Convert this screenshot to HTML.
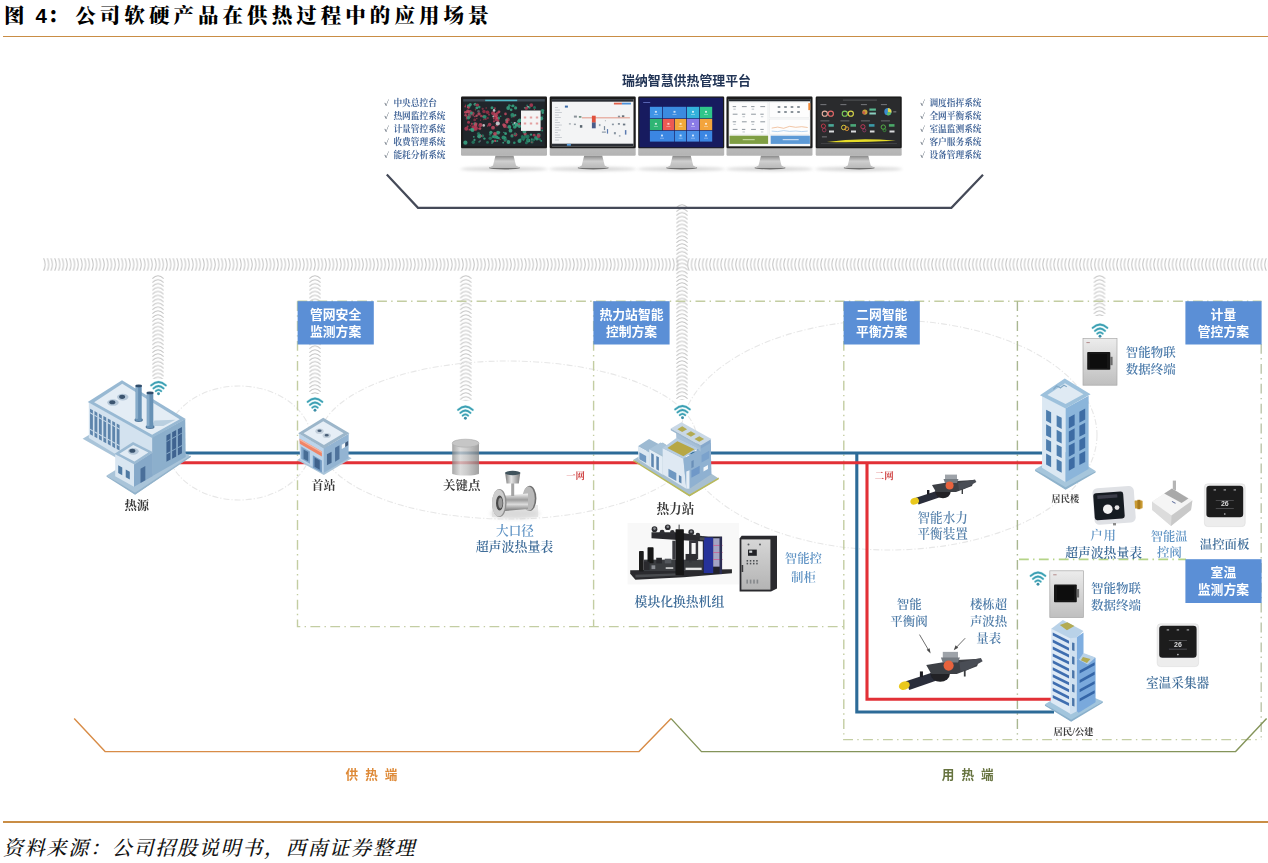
<!DOCTYPE html>
<html lang="zh-CN">
<head>
<meta charset="utf-8">
<title>图 4：公司软硬产品在供热过程中的应用场景</title>
<style>
html,body{margin:0;padding:0;background:#fff;}
#page{position:relative;width:1268px;height:863px;overflow:hidden;background:#fff;
  font-family:"Liberation Sans","Noto Sans CJK SC",sans-serif;}
.title{position:absolute;left:4px;top:0px;height:32px;line-height:32px;white-space:nowrap;
  font-family:"Liberation Sans","Noto Serif CJK SC",serif;font-weight:900;font-size:20.5px;letter-spacing:4.05px;color:#000;}
.title b{font-family:"Liberation Sans",sans-serif;font-weight:700;font-size:20.5px;letter-spacing:0;margin-left:-2.8px;}
.title i{font-style:normal;margin-left:0.6px;margin-right:3.2px;}
.rule{position:absolute;left:3px;right:0;height:2px;background:#c98d45;}
.source{position:absolute;left:3px;top:832.5px;height:30px;line-height:30px;white-space:nowrap;
  font-family:"Liberation Serif","Noto Serif CJK SC",serif;font-style:italic;font-weight:500;font-size:20px;letter-spacing:1.75px;color:#111;}
svg{position:absolute;left:0;top:0;filter:blur(0.4px);}
svg text{font-family:"Liberation Serif","Noto Serif CJK SC",serif;}
.sans{font-family:"Liberation Sans","Noto Sans CJK SC",sans-serif !important;}
</style>
</head>
<body>
<div id="page">
<div class="title">图 <b>4</b><i>：</i>公司软硬产品在供热过程中的应用场景</div>
<div class="rule" style="top:35.7px;height:1.5px"></div>

<svg id="dia" width="1268" height="863" viewBox="0 0 1268 863">
<defs>
  <pattern id="pR" x="43" y="258" width="3.7" height="13" patternUnits="userSpaceOnUse">
    <path d="M0.6,0.3 Q3.6,6.5 0.6,12.7" fill="none" stroke="#c4c4c4" stroke-width="1"/>
  </pattern>
  <pattern id="pL" x="686" y="258" width="3.7" height="13" patternUnits="userSpaceOnUse">
    <path d="M3.1,0.3 Q0.1,6.5 3.1,12.7" fill="none" stroke="#c4c4c4" stroke-width="1"/>
  </pattern>
  <pattern id="pV" x="0" y="0" width="12" height="3.9" patternUnits="userSpaceOnUse">
    <path d="M0.4,3.6 Q6,-2.2 11.6,3.6" fill="none" stroke="#c4c4c4" stroke-width="1"/>
  </pattern>
  <g id="wifi" fill="none" stroke-linecap="round">
    <g stroke="#c9ebee" stroke-width="2.8"><path d="M-7.3,-8.2 Q0,-14.8 7.3,-8.2"/><path d="M-5,-5.2 Q0,-9.8 5,-5.2"/><path d="M-2.7,-2.4 Q0,-5 2.7,-2.4"/></g>
    <g stroke="#3c9fb3"><path d="M-7.3,-8.2 Q0,-14.8 7.3,-8.2" stroke-width="1.75"/>
    <path d="M-5,-5.2 Q0,-9.8 5,-5.2" stroke-width="1.7"/>
    <path d="M-2.7,-2.4 Q0,-5 2.7,-2.4" stroke-width="1.6"/></g>
    <circle cx="0" cy="0.3" r="1.45" fill="#3c8fa8" stroke="none"/>
  </g>
</defs>
<g id="coils">
  <rect x="43" y="258" width="636" height="13" fill="url(#pR)"/>
  <rect x="686" y="258" width="582" height="13" fill="url(#pL)"/>
  <rect x="0" y="0" width="12" height="104.0" fill="url(#pV)" transform="translate(152.0,275.0)"/>
  <rect x="0" y="0" width="12" height="119.0" fill="url(#pV)" transform="translate(309.0,275.0)"/>
  <rect x="0" y="0" width="12" height="126.0" fill="url(#pV)" transform="translate(459.8,275.0)"/>
  <rect x="0" y="0" width="12" height="196.0" fill="url(#pV)" transform="translate(676.0,204.0)"/>
  <rect x="0" y="0" width="12" height="41.0" fill="url(#pV)" transform="translate(1093.5,275.0)"/>
</g>
<g id="ellipses" fill="none" stroke="#e7e7e7" stroke-width="1.1" stroke-dasharray="6 2 1.2 2">
  <ellipse cx="239" cy="443" rx="73" ry="57"/>
  <ellipse cx="508" cy="440" rx="189" ry="79"/>
  <ellipse cx="889" cy="435" rx="208" ry="115"/>
</g>
<g id="boxes" fill="none" stroke="#c3cda2" stroke-width="1.4" stroke-dasharray="9.8 4.3 1.4 4.4">
  <path d="M297.5,301.2 H1261.5"/>
  <path d="M297.5,301.2 V626.6 H843.8"/>
  <path d="M593.6,301.2 V626.6"/>
  <path d="M843.8,301.2 V739.6 H1261.3"/>
  <path d="M1017.4,301.2 V739.6" stroke="#a9b791"/>
  <path d="M1261.2,344 V739.6" stroke="#bcc5aa"/>
  <path d="M1019,559.3 H1186" stroke="#b5d488" stroke-width="1.7"/>
</g>
<g id="tags">
  <rect x="297.6" y="301.2" width="76.2" height="43.3" fill="#5b8fd6"/>
  <rect x="593.4" y="301.2" width="76.2" height="43.3" fill="#5b8fd6"/>
  <rect x="843.6" y="301.2" width="76.2" height="43.3" fill="#5b8fd6"/>
  <rect x="1185.4" y="301.2" width="76.2" height="43.3" fill="#5b8fd6"/>
  <rect x="1185.4" y="559.2" width="76.2" height="43.8" fill="#5b8fd6"/>
  <g class="sans" fill="#fff" font-weight="700" font-size="12.8px">
    <text class="sans" x="310" y="319">管网安全</text>
    <text class="sans" x="310" y="336">监测方案</text>
    <text class="sans" x="631.5" y="319" text-anchor="middle">热力站智能</text>
    <text class="sans" x="631.5" y="336" text-anchor="middle">控制方案</text>
    <text class="sans" x="881.7" y="319" text-anchor="middle">二网智能</text>
    <text class="sans" x="881.7" y="336" text-anchor="middle">平衡方案</text>
    <text class="sans" x="1223.4" y="319" text-anchor="middle">计量</text>
    <text class="sans" x="1223.4" y="336" text-anchor="middle">管控方案</text>
    <text class="sans" x="1223.4" y="577" text-anchor="middle">室温</text>
    <text class="sans" x="1223.4" y="594" text-anchor="middle">监测方案</text>
  </g>
</g>
<g id="wifis">
  <use href="#wifi" x="158.5" y="393.5"/>
  <use href="#wifi" x="315" y="410"/>
  <use href="#wifi" x="465.4" y="418"/>
  <use href="#wifi" x="682.5" y="417.5"/>
  <use href="#wifi" x="1100" y="336"/>
  <use href="#wifi" x="1038" y="584"/>
</g>

<!--SECTION:PLATFORM-->
<g id="platform">
<defs>
<linearGradient id="chin" x1="0" y1="0" x2="0" y2="1"><stop offset="0" stop-color="#d9d9d9"/><stop offset="1" stop-color="#b4b4b4"/></linearGradient>
<linearGradient id="neck" x1="0" y1="0" x2="0" y2="1"><stop offset="0" stop-color="#858585"/><stop offset="0.45" stop-color="#cfcfcf"/><stop offset="1" stop-color="#b8b8b8"/></linearGradient>
<filter id="b1" x="-20%" y="-20%" width="140%" height="140%"><feGaussianBlur stdDeviation="0.7"/></filter>
<filter id="b2" x="-20%" y="-50%" width="140%" height="200%"><feGaussianBlur stdDeviation="1.6"/></filter>
<g id="mon">
<ellipse cx="43" cy="72.5" rx="44" ry="2.2" fill="#d8d8d8" filter="url(#b2)"/>
<ellipse cx="43.5" cy="71.4" rx="15.5" ry="1.5" fill="#6f6f6f"/>
<path d="M34.5,59 H52.5 L55,69 Q58.5,70.5 58.5,71.6 H28.5 Q28.5,70.5 32,69 Z" fill="url(#neck)"/>
<rect x="0" y="0" width="86" height="59.3" rx="1.2" fill="url(#chin)"/>
<rect x="0" y="0" width="86" height="51.8" rx="1.2" fill="#1c1c1c"/>
</g>
</defs>
<use href="#mon" x="461" y="96.5"/>
<use href="#mon" x="549.7" y="96.5"/>
<use href="#mon" x="638.2" y="96.5"/>
<use href="#mon" x="726.5" y="96.5"/>
<use href="#mon" x="815.7" y="96.5"/>
<g><rect x="463.2" y="99.1" width="81.6" height="47.2" fill="#20262b"/>
<rect x="463.2" y="99.1" width="81.6" height="2.4" fill="#3d4a55"/>
<rect x="485.2" y="99.69999999999999" width="32" height="1.5" fill="#4fb7c4"/>
<g filter="url(#b1)">
<circle cx="483.7" cy="125.4" r="1.3" fill="#d7dadd" opacity="0.85"/>
<circle cx="510.3" cy="127.8" r="0.9" fill="#2f9a78" opacity="0.85"/>
<circle cx="507.9" cy="119.7" r="1.9" fill="#b23a55" opacity="0.85"/>
<circle cx="505.8" cy="133.2" r="0.7" fill="#237a60" opacity="0.85"/>
<circle cx="525.7" cy="136.4" r="2.0" fill="#237a60" opacity="0.85"/>
<circle cx="495.3" cy="135.0" r="1.3" fill="#237a60" opacity="0.85"/>
<circle cx="537.8" cy="138.6" r="0.9" fill="#3aa886" opacity="0.85"/>
<circle cx="513.8" cy="115.9" r="1.5" fill="#8c2f45" opacity="0.85"/>
<circle cx="506.6" cy="120.1" r="1.6" fill="#2f9a78" opacity="0.85"/>
<circle cx="537.3" cy="137.7" r="0.8" fill="#8c2f45" opacity="0.85"/>
<circle cx="532.0" cy="141.9" r="1.6" fill="#237a60" opacity="0.85"/>
<circle cx="514.3" cy="142.8" r="1.3" fill="#2f9a78" opacity="0.85"/>
<circle cx="514.8" cy="123.1" r="1.2" fill="#d7dadd" opacity="0.85"/>
<circle cx="476.9" cy="115.6" r="0.7" fill="#3aa886" opacity="0.85"/>
<circle cx="512.9" cy="105.9" r="1.4" fill="#3aa886" opacity="0.85"/>
<circle cx="542.7" cy="116.2" r="0.6" fill="#237a60" opacity="0.85"/>
<circle cx="480.5" cy="120.1" r="0.7" fill="#9c3048" opacity="0.85"/>
<circle cx="539.6" cy="139.2" r="1.2" fill="#237a60" opacity="0.85"/>
<circle cx="473.2" cy="142.2" r="1.7" fill="#237a60" opacity="0.85"/>
<circle cx="483.6" cy="115.9" r="1.1" fill="#9c3048" opacity="0.85"/>
<circle cx="526.4" cy="142.8" r="1.5" fill="#237a60" opacity="0.85"/>
<circle cx="475.5" cy="128.9" r="2.0" fill="#9c3048" opacity="0.85"/>
<circle cx="512.4" cy="115.0" r="2.0" fill="#2f9a78" opacity="0.85"/>
<circle cx="466.8" cy="118.6" r="1.1" fill="#9c3048" opacity="0.85"/>
<circle cx="493.4" cy="116.4" r="1.0" fill="#d7dadd" opacity="0.85"/>
<circle cx="526.3" cy="108.2" r="1.6" fill="#b23a55" opacity="0.85"/>
<circle cx="475.4" cy="123.7" r="1.6" fill="#b23a55" opacity="0.85"/>
<circle cx="515.6" cy="107.9" r="1.6" fill="#3aa886" opacity="0.85"/>
<circle cx="482.6" cy="135.8" r="1.6" fill="#237a60" opacity="0.85"/>
<circle cx="482.7" cy="108.8" r="1.1" fill="#8c2f45" opacity="0.85"/>
<circle cx="529.4" cy="107.5" r="1.2" fill="#2f9a78" opacity="0.85"/>
<circle cx="505.4" cy="137.4" r="1.0" fill="#3aa886" opacity="0.85"/>
<circle cx="509.3" cy="105.5" r="1.3" fill="#2f9a78" opacity="0.85"/>
<circle cx="504.8" cy="126.0" r="1.9" fill="#c24a62" opacity="0.85"/>
<circle cx="516.6" cy="124.4" r="1.9" fill="#2f9a78" opacity="0.85"/>
<circle cx="531.8" cy="142.2" r="0.7" fill="#b23a55" opacity="0.85"/>
<circle cx="536.9" cy="139.2" r="1.3" fill="#2f9a78" opacity="0.85"/>
<circle cx="474.6" cy="123.8" r="1.4" fill="#2f9a78" opacity="0.85"/>
<circle cx="497.3" cy="140.9" r="1.0" fill="#2f9a78" opacity="0.85"/>
<circle cx="480.5" cy="125.1" r="2.0" fill="#c24a62" opacity="0.85"/>
<circle cx="527.7" cy="136.4" r="1.9" fill="#237a60" opacity="0.85"/>
<circle cx="469.1" cy="114.7" r="1.4" fill="#c24a62" opacity="0.85"/>
<circle cx="469.2" cy="116.8" r="1.8" fill="#b23a55" opacity="0.85"/>
<circle cx="468.8" cy="106.1" r="1.9" fill="#3aa886" opacity="0.85"/>
<circle cx="471.9" cy="123.8" r="1.1" fill="#b23a55" opacity="0.85"/>
<circle cx="515.4" cy="127.1" r="1.2" fill="#3aa886" opacity="0.85"/>
<circle cx="475.1" cy="104.2" r="1.5" fill="#3aa886" opacity="0.85"/>
<circle cx="468.5" cy="122.2" r="1.5" fill="#b23a55" opacity="0.85"/>
<circle cx="498.7" cy="118.7" r="1.1" fill="#3aa886" opacity="0.85"/>
<circle cx="466.6" cy="112.7" r="0.7" fill="#c24a62" opacity="0.85"/>
<circle cx="498.2" cy="120.8" r="1.2" fill="#b23a55" opacity="0.85"/>
<circle cx="534.9" cy="135.1" r="0.8" fill="#237a60" opacity="0.85"/>
<circle cx="534.1" cy="135.2" r="1.4" fill="#b23a55" opacity="0.85"/>
<circle cx="473.2" cy="127.1" r="1.8" fill="#b23a55" opacity="0.85"/>
<circle cx="468.6" cy="107.7" r="1.2" fill="#b23a55" opacity="0.85"/>
<circle cx="531.3" cy="105.1" r="1.9" fill="#b23a55" opacity="0.85"/>
<circle cx="527.2" cy="105.5" r="1.0" fill="#237a60" opacity="0.85"/>
<circle cx="508.2" cy="108.0" r="1.9" fill="#3aa886" opacity="0.85"/>
<circle cx="479.2" cy="107.1" r="1.3" fill="#2f9a78" opacity="0.85"/>
<circle cx="519.5" cy="141.1" r="2.0" fill="#3aa886" opacity="0.85"/>
<circle cx="508.4" cy="142.0" r="1.9" fill="#3aa886" opacity="0.85"/>
<circle cx="509.3" cy="126.8" r="1.9" fill="#3aa886" opacity="0.85"/>
<circle cx="476.8" cy="107.9" r="1.4" fill="#3aa886" opacity="0.85"/>
<circle cx="499.6" cy="132.3" r="0.8" fill="#2f9a78" opacity="0.85"/>
<circle cx="505.2" cy="140.7" r="1.0" fill="#8c2f45" opacity="0.85"/>
<circle cx="519.9" cy="120.3" r="1.9" fill="#3aa886" opacity="0.85"/>
<circle cx="489.0" cy="114.6" r="1.1" fill="#9c3048" opacity="0.85"/>
<circle cx="490.2" cy="134.4" r="1.3" fill="#237a60" opacity="0.85"/>
<circle cx="511.7" cy="122.4" r="0.7" fill="#237a60" opacity="0.85"/>
<circle cx="538.7" cy="134.8" r="1.9" fill="#2f9a78" opacity="0.85"/>
<circle cx="515.5" cy="134.6" r="1.9" fill="#b23a55" opacity="0.85"/>
<circle cx="484.0" cy="111.5" r="1.7" fill="#9c3048" opacity="0.85"/>
<circle cx="531.8" cy="139.4" r="1.1" fill="#2f9a78" opacity="0.85"/>
<circle cx="498.0" cy="132.7" r="1.9" fill="#3aa886" opacity="0.85"/>
<circle cx="487.8" cy="118.1" r="1.1" fill="#8c2f45" opacity="0.85"/>
<circle cx="467.5" cy="117.1" r="1.6" fill="#b23a55" opacity="0.85"/>
<circle cx="474.9" cy="116.6" r="0.8" fill="#c24a62" opacity="0.85"/>
<circle cx="534.0" cy="139.7" r="1.2" fill="#237a60" opacity="0.85"/>
<circle cx="525.1" cy="133.8" r="1.6" fill="#c24a62" opacity="0.85"/>
<circle cx="538.5" cy="136.1" r="2.0" fill="#b23a55" opacity="0.85"/>
<circle cx="517.4" cy="125.1" r="1.4" fill="#b23a55" opacity="0.85"/>
<circle cx="469.8" cy="115.6" r="1.7" fill="#5a5f66" opacity="0.85"/>
<circle cx="476.8" cy="118.6" r="0.8" fill="#9c3048" opacity="0.85"/>
<circle cx="490.9" cy="132.3" r="1.6" fill="#3aa886" opacity="0.85"/>
<circle cx="500.7" cy="116.3" r="0.8" fill="#2f9a78" opacity="0.85"/>
<circle cx="479.3" cy="125.8" r="1.1" fill="#8c2f45" opacity="0.85"/>
<circle cx="485.8" cy="119.1" r="1.0" fill="#9c3048" opacity="0.85"/>
<circle cx="519.2" cy="124.3" r="1.3" fill="#c24a62" opacity="0.85"/>
<circle cx="528.0" cy="106.8" r="0.8" fill="#d7dadd" opacity="0.85"/>
<circle cx="486.2" cy="108.0" r="0.8" fill="#9c3048" opacity="0.85"/>
<circle cx="519.4" cy="126.3" r="1.7" fill="#3aa886" opacity="0.85"/>
<circle cx="511.1" cy="109.8" r="1.4" fill="#3aa886" opacity="0.85"/>
<circle cx="478.4" cy="111.1" r="0.6" fill="#c24a62" opacity="0.85"/>
<circle cx="527.5" cy="139.0" r="1.1" fill="#237a60" opacity="0.85"/>
<circle cx="503.8" cy="124.8" r="1.6" fill="#c24a62" opacity="0.85"/>
<circle cx="467.5" cy="111.6" r="1.0" fill="#9c3048" opacity="0.85"/>
<circle cx="478.6" cy="128.6" r="0.9" fill="#9c3048" opacity="0.85"/>
<circle cx="528.3" cy="140.4" r="2.0" fill="#3aa886" opacity="0.85"/>
<circle cx="534.4" cy="109.4" r="0.7" fill="#b23a55" opacity="0.85"/>
<circle cx="493.1" cy="113.2" r="2.0" fill="#b23a55" opacity="0.85"/>
<circle cx="490.3" cy="138.2" r="1.8" fill="#237a60" opacity="0.85"/>
<circle cx="467.8" cy="107.2" r="0.9" fill="#c24a62" opacity="0.85"/>
<circle cx="470.1" cy="111.9" r="1.8" fill="#b23a55" opacity="0.85"/>
<circle cx="496.9" cy="137.2" r="1.6" fill="#3aa886" opacity="0.85"/>
<circle cx="506.9" cy="120.6" r="1.3" fill="#c24a62" opacity="0.85"/>
<circle cx="518.8" cy="121.3" r="1.7" fill="#3aa886" opacity="0.85"/>
<circle cx="493.7" cy="118.6" r="0.9" fill="#c24a62" opacity="0.85"/>
<circle cx="465.4" cy="112.3" r="1.4" fill="#c24a62" opacity="0.85"/>
<circle cx="477.5" cy="105.0" r="1.6" fill="#b23a55" opacity="0.85"/>
<circle cx="476.0" cy="128.0" r="1.9" fill="#b23a55" opacity="0.85"/>
<circle cx="496.5" cy="116.6" r="0.7" fill="#b23a55" opacity="0.85"/>
<circle cx="496.5" cy="119.6" r="1.9" fill="#b23a55" opacity="0.85"/>
<circle cx="483.9" cy="119.4" r="0.8" fill="#9c3048" opacity="0.85"/>
<circle cx="541.3" cy="141.0" r="1.0" fill="#237a60" opacity="0.85"/>
<circle cx="492.0" cy="107.8" r="1.5" fill="#3aa886" opacity="0.85"/>
<circle cx="465.5" cy="105.3" r="0.7" fill="#9c3048" opacity="0.85"/>
<circle cx="469.4" cy="129.7" r="0.9" fill="#c24a62" opacity="0.85"/>
<circle cx="527.6" cy="140.1" r="1.5" fill="#237a60" opacity="0.85"/>
<circle cx="495.8" cy="141.2" r="0.8" fill="#2f9a78" opacity="0.85"/>
<circle cx="495.5" cy="117.2" r="1.9" fill="#9c3048" opacity="0.85"/>
<circle cx="495.1" cy="140.9" r="1.1" fill="#c24a62" opacity="0.85"/>
<circle cx="497.4" cy="113.1" r="1.4" fill="#b23a55" opacity="0.85"/>
<circle cx="523.6" cy="140.0" r="0.7" fill="#3aa886" opacity="0.85"/>
<circle cx="478.5" cy="133.6" r="1.6" fill="#237a60" opacity="0.85"/>
<circle cx="472.7" cy="113.4" r="1.9" fill="#b23a55" opacity="0.85"/>
<circle cx="500.1" cy="139.3" r="0.6" fill="#c24a62" opacity="0.85"/>
<circle cx="480.3" cy="134.9" r="0.8" fill="#3aa886" opacity="0.85"/>
<circle cx="471.5" cy="129.5" r="1.6" fill="#2f9a78" opacity="0.85"/>
<circle cx="541.1" cy="140.8" r="0.8" fill="#2f9a78" opacity="0.85"/>
<circle cx="487.5" cy="112.3" r="1.8" fill="#9c3048" opacity="0.85"/>
<circle cx="512.1" cy="135.0" r="1.3" fill="#8c2f45" opacity="0.85"/>
<circle cx="513.5" cy="105.7" r="0.9" fill="#2f9a78" opacity="0.85"/>
<circle cx="534.5" cy="107.5" r="1.5" fill="#237a60" opacity="0.85"/>
<circle cx="515.0" cy="133.9" r="1.3" fill="#237a60" opacity="0.85"/>
<circle cx="473.8" cy="136.8" r="0.9" fill="#3aa886" opacity="0.85"/>
<circle cx="507.0" cy="122.3" r="1.3" fill="#b23a55" opacity="0.85"/>
<circle cx="470.8" cy="125.8" r="0.7" fill="#9c3048" opacity="0.85"/>
<circle cx="505.5" cy="113.9" r="1.3" fill="#c24a62" opacity="0.85"/>
<circle cx="484.7" cy="116.8" r="1.9" fill="#2f9a78" opacity="0.85"/>
<circle cx="541.8" cy="128.1" r="1.2" fill="#8c2f45" opacity="0.85"/>
<circle cx="480.0" cy="128.6" r="1.3" fill="#c24a62" opacity="0.85"/>
<circle cx="510.8" cy="105.5" r="0.6" fill="#2f9a78" opacity="0.85"/>
<circle cx="476.9" cy="123.8" r="0.7" fill="#b23a55" opacity="0.85"/>
<circle cx="498.8" cy="117.6" r="1.0" fill="#2f9a78" opacity="0.85"/>
<circle cx="473.2" cy="115.8" r="0.8" fill="#b23a55" opacity="0.85"/>
<circle cx="524.4" cy="131.6" r="1.9" fill="#3aa886" opacity="0.85"/>
<circle cx="494.1" cy="110.4" r="1.3" fill="#d7dadd" opacity="0.85"/>
<circle cx="542.7" cy="112.8" r="1.2" fill="#3aa886" opacity="0.85"/>
<circle cx="493.1" cy="136.7" r="1.4" fill="#2f9a78" opacity="0.85"/>
<circle cx="466.3" cy="128.8" r="2.0" fill="#b23a55" opacity="0.85"/>
<circle cx="465.4" cy="142.7" r="2.1" fill="#3aa886" opacity="0.85"/>
<circle cx="467.9" cy="111.4" r="1.9" fill="#c24a62" opacity="0.85"/>
<circle cx="512.0" cy="135.9" r="1.6" fill="#2f9a78" opacity="0.85"/>
<circle cx="503.9" cy="132.4" r="0.7" fill="#3aa886" opacity="0.85"/>
<circle cx="542.5" cy="110.6" r="1.7" fill="#2f9a78" opacity="0.85"/>
<circle cx="475.6" cy="104.8" r="0.7" fill="#9c3048" opacity="0.85"/>
<circle cx="505.6" cy="133.7" r="1.4" fill="#3aa886" opacity="0.85"/>
<circle cx="478.5" cy="111.3" r="1.4" fill="#5a5f66" opacity="0.85"/>
<circle cx="496.9" cy="117.9" r="1.3" fill="#c24a62" opacity="0.85"/>
<circle cx="489.6" cy="124.6" r="1.8" fill="#b23a55" opacity="0.85"/>
<circle cx="467.6" cy="126.6" r="1.0" fill="#b23a55" opacity="0.85"/>
<circle cx="520.2" cy="139.8" r="1.2" fill="#2f9a78" opacity="0.85"/>
<circle cx="505.1" cy="139.2" r="0.9" fill="#3aa886" opacity="0.85"/>
<circle cx="494.9" cy="136.6" r="2.0" fill="#2f9a78" opacity="0.85"/>
<circle cx="495.7" cy="115.2" r="2.1" fill="#c24a62" opacity="0.85"/>
<circle cx="471.4" cy="113.1" r="1.6" fill="#2f9a78" opacity="0.85"/>
<circle cx="474.1" cy="128.9" r="1.8" fill="#b23a55" opacity="0.85"/>
<circle cx="465.6" cy="115.2" r="1.3" fill="#c24a62" opacity="0.85"/>
<circle cx="487.7" cy="126.0" r="0.8" fill="#b23a55" opacity="0.85"/>
<circle cx="542.2" cy="130.5" r="0.9" fill="#2f9a78" opacity="0.85"/>
<circle cx="513.8" cy="116.3" r="0.7" fill="#2f9a78" opacity="0.85"/>
<circle cx="494.9" cy="108.3" r="1.0" fill="#b23a55" opacity="0.85"/>
<circle cx="475.4" cy="109.8" r="0.7" fill="#9c3048" opacity="0.85"/>
<circle cx="480.1" cy="140.9" r="1.0" fill="#5a5f66" opacity="0.85"/>
<circle cx="492.7" cy="141.4" r="1.3" fill="#3aa886" opacity="0.85"/>
<circle cx="496.8" cy="125.2" r="1.3" fill="#9c3048" opacity="0.85"/>
<circle cx="495.0" cy="133.8" r="1.9" fill="#c24a62" opacity="0.85"/>
<circle cx="479.1" cy="141.9" r="0.8" fill="#2f9a78" opacity="0.85"/>
<circle cx="512.0" cy="106.3" r="0.8" fill="#2f9a78" opacity="0.85"/>
<circle cx="474.7" cy="119.9" r="1.4" fill="#8c2f45" opacity="0.85"/>
<circle cx="524.6" cy="107.7" r="0.8" fill="#3aa886" opacity="0.85"/>
<circle cx="511.8" cy="116.8" r="1.1" fill="#237a60" opacity="0.85"/>
<circle cx="493.0" cy="127.7" r="1.9" fill="#c24a62" opacity="0.85"/>
<circle cx="487.5" cy="142.4" r="1.4" fill="#237a60" opacity="0.85"/>
<circle cx="515.3" cy="115.2" r="1.1" fill="#3aa886" opacity="0.85"/>
<circle cx="513.3" cy="124.5" r="1.2" fill="#3aa886" opacity="0.85"/>
<circle cx="531.0" cy="134.6" r="1.2" fill="#3aa886" opacity="0.85"/>
<circle cx="541.3" cy="118.5" r="1.9" fill="#3aa886" opacity="0.85"/>
<circle cx="498.7" cy="138.1" r="1.2" fill="#3aa886" opacity="0.85"/>
<circle cx="494.0" cy="121.3" r="1.1" fill="#b23a55" opacity="0.85"/>
<circle cx="465.2" cy="106.6" r="0.9" fill="#b23a55" opacity="0.85"/>
<circle cx="499.0" cy="111.8" r="1.4" fill="#c24a62" opacity="0.85"/>
<circle cx="522.4" cy="136.6" r="1.5" fill="#237a60" opacity="0.85"/>
<circle cx="504.7" cy="140.5" r="1.0" fill="#3aa886" opacity="0.85"/>
<circle cx="479.9" cy="136.4" r="1.2" fill="#8c2f45" opacity="0.85"/>
<circle cx="503.2" cy="142.7" r="0.9" fill="#3aa886" opacity="0.85"/>
<circle cx="514.5" cy="127.1" r="1.6" fill="#2f9a78" opacity="0.85"/>
<circle cx="523.1" cy="138.5" r="2.1" fill="#237a60" opacity="0.85"/>
<circle cx="470.3" cy="104.5" r="1.5" fill="#3aa886" opacity="0.85"/>
<circle cx="472.5" cy="130.0" r="1.9" fill="#3aa886" opacity="0.85"/>
<circle cx="482.7" cy="116.7" r="0.7" fill="#3aa886" opacity="0.85"/>
<circle cx="505.4" cy="139.5" r="1.8" fill="#237a60" opacity="0.85"/>
<circle cx="479.2" cy="136.3" r="2.1" fill="#3aa886" opacity="0.85"/>
<circle cx="516.5" cy="124.8" r="1.9" fill="#3aa886" opacity="0.85"/>
<circle cx="475.5" cy="124.9" r="1.8" fill="#c24a62" opacity="0.85"/>
<circle cx="535.8" cy="137.7" r="1.7" fill="#2f9a78" opacity="0.85"/>
<circle cx="503.5" cy="137.6" r="2.0" fill="#2f9a78" opacity="0.85"/>
<circle cx="474.5" cy="139.9" r="1.1" fill="#3aa886" opacity="0.85"/>
<circle cx="484.4" cy="138.6" r="1.2" fill="#3aa886" opacity="0.85"/>
<circle cx="479.0" cy="113.9" r="1.7" fill="#c24a62" opacity="0.85"/>
<circle cx="481.3" cy="116.0" r="1.3" fill="#b23a55" opacity="0.85"/>
<circle cx="481.4" cy="135.9" r="0.9" fill="#c24a62" opacity="0.85"/>
<circle cx="507.1" cy="127.5" r="0.7" fill="#b23a55" opacity="0.85"/>
<circle cx="506.8" cy="122.0" r="1.4" fill="#c24a62" opacity="0.85"/>
<circle cx="497.8" cy="123.5" r="2.1" fill="#d7dadd" opacity="0.85"/>
<circle cx="492.0" cy="143.1" r="0.8" fill="#3aa886" opacity="0.85"/>
<circle cx="497.7" cy="138.0" r="1.1" fill="#2f9a78" opacity="0.85"/>
<circle cx="476.6" cy="115.8" r="1.2" fill="#c24a62" opacity="0.85"/>
<circle cx="468.4" cy="117.7" r="1.7" fill="#2f9a78" opacity="0.85"/>
<circle cx="510.5" cy="130.7" r="1.9" fill="#3aa886" opacity="0.85"/>
</g>
<rect x="521" y="110.5" width="19.6" height="20.4" fill="#f4f4f4"/>
<rect x="523.8" y="116.5" width="2.4" height="2" fill="#e3a0a0"/>
<rect x="529.8" y="116.5" width="2.4" height="2" fill="#e3a0a0"/>
<rect x="535.8" y="116.5" width="2.4" height="2" fill="#e3a0a0"/>
<rect x="523.8" y="122.5" width="2.4" height="2" fill="#e3a0a0"/>
<rect x="529.8" y="122.5" width="2.4" height="2" fill="#e3a0a0"/>
<rect x="535.8" y="122.5" width="2.4" height="2" fill="#e3a0a0"/>
</g>
<g><rect x="551.9000000000001" y="99.1" width="81.6" height="47.2" fill="#f3f4f5"/>
<rect x="551.9000000000001" y="99.1" width="81.6" height="2.6" fill="#2b2f36"/>
<rect x="551.9000000000001" y="143.70000000000002" width="81.6" height="2.6" fill="#2b2f36"/>
<rect x="613.9000000000001" y="102.69999999999999" width="8" height="1.8" fill="#e0604a"/><rect x="621.9000000000001" y="102.69999999999999" width="9" height="1.8" fill="#4a90d8"/>
<rect x="564.9000000000001" y="105.6" width="3" height="2" fill="#3a6aa8"/>
<rect x="554.9000000000001" y="107.1" width="3" height="0.9" fill="#c5c9cf"/>
<rect x="554.9000000000001" y="109.6" width="5" height="0.9" fill="#c5c9cf"/>
<rect x="554.9000000000001" y="112.1" width="7" height="0.9" fill="#c5c9cf"/>
<rect x="554.9000000000001" y="114.6" width="4" height="0.9" fill="#c5c9cf"/>
<rect x="554.9000000000001" y="117.1" width="6" height="0.9" fill="#c5c9cf"/>
<rect x="554.9000000000001" y="119.6" width="3" height="0.9" fill="#c5c9cf"/>
<rect x="554.9000000000001" y="122.1" width="5" height="0.9" fill="#c5c9cf"/>
<rect x="554.9000000000001" y="124.6" width="7" height="0.9" fill="#c5c9cf"/>
<rect x="554.9000000000001" y="127.1" width="4" height="0.9" fill="#c5c9cf"/>
<rect x="554.9000000000001" y="129.6" width="6" height="0.9" fill="#c5c9cf"/>
<rect x="554.9000000000001" y="132.1" width="3" height="0.9" fill="#c5c9cf"/>
<rect x="554.9000000000001" y="134.6" width="5" height="0.9" fill="#c5c9cf"/>
<rect x="554.9000000000001" y="137.1" width="7" height="0.9" fill="#c5c9cf"/>
<rect x="554.9000000000001" y="139.6" width="4" height="0.9" fill="#c5c9cf"/>
<rect x="581.9000000000001" y="117.39999999999999" width="48" height="0.9" fill="#e28a78"/>
<rect x="591.9000000000001" y="115.69999999999999" width="3.8" height="7" fill="#e0523e"/><rect x="591.9000000000001" y="122.5" width="3.8" height="5.8" fill="#4a5d8a"/>
<rect x="573.9000000000001" y="115.6" width="3" height="2" fill="#8a929a"/>
<rect x="578.9000000000001" y="116.1" width="2.5" height="1.6" fill="#6a8a7a"/>
<rect x="568.9000000000001" y="123.1" width="2" height="1.5" fill="#b0b6bc"/>
<rect x="573.9000000000001" y="123.6" width="2" height="1.5" fill="#9aa2aa"/>
<rect x="579.9000000000001" y="125.1" width="2.4" height="2.6" fill="#5a6670"/>
<rect x="598.9000000000001" y="124.1" width="1.6" height="2" fill="#9aa6b2"/>
<rect x="603.9000000000001" y="126.1" width="1.2" height="4" fill="#7a8a9a"/>
<rect x="606.9000000000001" y="129.1" width="1.2" height="4.5" fill="#5a7ab0"/>
<rect x="601.9000000000001" y="131.6" width="4" height="1" fill="#7a8a9a"/>
<rect x="611.9000000000001" y="123.6" width="2" height="1.6" fill="#8a96a2"/>
<rect x="617.9000000000001" y="123.1" width="2" height="1.6" fill="#7a8692"/>
<rect x="622.9000000000001" y="123.6" width="2.4" height="1.8" fill="#6a7682"/>
<rect x="613.9000000000001" y="132.1" width="2" height="2.2" fill="#8a96a2"/>
<rect x="618.9000000000001" y="135.1" width="1.6" height="1.6" fill="#a0aab4"/>
<rect x="624.9000000000001" y="130.1" width="1.5" height="4.5" fill="#5a7ab0"/>
<rect x="617.9000000000001" y="115.69999999999999" width="2.2" height="1.6" fill="#8a929a"/>
<rect x="621.9000000000001" y="115.3" width="2.4" height="1.8" fill="#6a727a"/>
<rect x="604.9000000000001" y="120.1" width="1" height="1.2" fill="#b0b6bc"/>
<rect x="566.9000000000001" y="143.9" width="4" height="1.8" fill="#5aa0e0"/>
</g>
<g><rect x="639.4000000000001" y="97.7" width="83.6" height="49.6" fill="#171b5f"/>
<rect x="643.2" y="102.1" width="7" height="0.8" fill="#6a78c8"/>
<rect x="649.9" y="106.8" width="12.1" height="11.5" fill="#3f94e6"/>
<rect x="654.9" y="110.9" width="2" height="1.8" fill="#fff" opacity="0.75"/>
<rect x="653.9" y="114.1" width="4" height="0.7" fill="#fff" opacity="0.5"/>
<rect x="662.7" y="106.8" width="23.6" height="11.5" fill="#3b8be0"/>
<rect x="673.5" y="110.9" width="2" height="1.8" fill="#fff" opacity="0.75"/>
<rect x="672.5" y="114.1" width="4" height="0.7" fill="#fff" opacity="0.5"/>
<rect x="687.0" y="106.8" width="12.1" height="11.5" fill="#33b2dc"/>
<rect x="692.0" y="110.9" width="2" height="1.8" fill="#fff" opacity="0.75"/>
<rect x="691.0" y="114.1" width="4" height="0.7" fill="#fff" opacity="0.5"/>
<rect x="699.8" y="106.8" width="12.4" height="11.5" fill="#2fc68a"/>
<rect x="705.0" y="110.9" width="2" height="1.8" fill="#fff" opacity="0.75"/>
<rect x="704.0" y="114.1" width="4" height="0.7" fill="#fff" opacity="0.5"/>
<rect x="649.9" y="118.9" width="12.1" height="11.3" fill="#2fb574"/>
<rect x="654.9" y="122.9" width="2" height="1.8" fill="#fff" opacity="0.75"/>
<rect x="653.9" y="126.1" width="4" height="0.7" fill="#fff" opacity="0.5"/>
<rect x="662.7" y="118.9" width="11.5" height="11.3" fill="#ec5a52"/>
<rect x="667.4" y="122.9" width="2" height="1.8" fill="#fff" opacity="0.75"/>
<rect x="666.4" y="126.1" width="4" height="0.7" fill="#fff" opacity="0.5"/>
<rect x="674.8" y="118.9" width="11.5" height="11.3" fill="#f2a93a"/>
<rect x="679.6" y="122.9" width="2" height="1.8" fill="#fff" opacity="0.75"/>
<rect x="678.6" y="126.1" width="4" height="0.7" fill="#fff" opacity="0.5"/>
<rect x="687.0" y="118.9" width="12.1" height="11.3" fill="#8a7be6"/>
<rect x="692.0" y="122.9" width="2" height="1.8" fill="#fff" opacity="0.75"/>
<rect x="691.0" y="126.1" width="4" height="0.7" fill="#fff" opacity="0.5"/>
<rect x="699.8" y="118.9" width="12.4" height="11.3" fill="#f3a43c"/>
<rect x="705.0" y="122.9" width="2" height="1.8" fill="#fff" opacity="0.75"/>
<rect x="704.0" y="126.1" width="4" height="0.7" fill="#fff" opacity="0.5"/>
<rect x="649.9" y="130.8" width="24.3" height="10.8" fill="#3b86e2"/>
<rect x="661.0" y="134.6" width="2" height="1.8" fill="#fff" opacity="0.75"/>
<rect x="660.0" y="137.8" width="4" height="0.7" fill="#fff" opacity="0.5"/>
<rect x="674.8" y="130.8" width="11.5" height="10.8" fill="#3f8fe6"/>
<rect x="679.6" y="134.6" width="2" height="1.8" fill="#fff" opacity="0.75"/>
<rect x="678.6" y="137.8" width="4" height="0.7" fill="#fff" opacity="0.5"/>
<rect x="687.0" y="130.8" width="12.1" height="10.8" fill="#4a90e8"/>
<rect x="692.0" y="134.6" width="2" height="1.8" fill="#fff" opacity="0.75"/>
<rect x="691.0" y="137.8" width="4" height="0.7" fill="#fff" opacity="0.5"/>
<rect x="699.8" y="130.8" width="12.4" height="10.8" fill="#3b86e2"/>
<rect x="705.0" y="134.6" width="2" height="1.8" fill="#fff" opacity="0.75"/>
<rect x="704.0" y="137.8" width="4" height="0.7" fill="#fff" opacity="0.5"/>
</g>
<g><rect x="728.7" y="99.1" width="81.6" height="47.2" fill="#f6f7f7"/>
<rect x="728.7" y="99.1" width="81.6" height="2.2" fill="#24282e"/>
<rect x="729.3000000000001" y="102.1" width="38.6" height="32" fill="#fdfdfd" stroke="#e1e4e6" stroke-width="0.4"/>
<rect x="769.7" y="102.1" width="40" height="15.5" fill="#fdfdfd" stroke="#e1e4e6" stroke-width="0.4"/>
<rect x="769.7" y="119.1" width="40" height="15" fill="#fdfdfd" stroke="#e1e4e6" stroke-width="0.4"/>
<rect x="732.7" y="106.1" width="3.4" height="1" fill="#8f979e"/>
<rect x="733.3" y="108.7" width="2.4" height="0.9" fill="#b7bec4"/>
<rect x="741.9" y="106.1" width="4.8" height="1" fill="#8f979e"/>
<rect x="751.1" y="106.1" width="3.4" height="1" fill="#8f979e"/>
<rect x="751.7" y="108.7" width="2.4" height="0.9" fill="#b7bec4"/>
<rect x="760.3" y="106.1" width="4.8" height="1" fill="#8f979e"/>
<rect x="732.7" y="113.7" width="4.8" height="1" fill="#8f979e"/>
<rect x="741.9" y="113.7" width="3.4" height="1" fill="#8f979e"/>
<rect x="742.5" y="116.3" width="2.4" height="0.9" fill="#b7bec4"/>
<rect x="751.1" y="113.7" width="4.8" height="1" fill="#8f979e"/>
<rect x="760.3" y="113.7" width="3.4" height="1" fill="#8f979e"/>
<rect x="760.9" y="116.3" width="2.4" height="0.9" fill="#b7bec4"/>
<rect x="732.7" y="121.3" width="3.4" height="1" fill="#8f979e"/>
<rect x="733.3" y="123.9" width="2.4" height="0.9" fill="#b7bec4"/>
<rect x="741.9" y="121.3" width="4.8" height="1" fill="#8f979e"/>
<rect x="751.1" y="121.3" width="3.4" height="1" fill="#8f979e"/>
<rect x="751.7" y="123.9" width="2.4" height="0.9" fill="#b7bec4"/>
<rect x="760.3" y="121.3" width="4.8" height="1" fill="#8f979e"/>
<rect x="732.7" y="128.9" width="4.8" height="1" fill="#8f979e"/>
<rect x="741.9" y="128.9" width="3.4" height="1" fill="#8f979e"/>
<rect x="742.5" y="131.5" width="2.4" height="0.9" fill="#b7bec4"/>
<rect x="751.1" y="128.9" width="4.8" height="1" fill="#8f979e"/>
<rect x="760.3" y="128.9" width="3.4" height="1" fill="#8f979e"/>
<rect x="760.9" y="131.5" width="2.4" height="0.9" fill="#b7bec4"/>
<rect x="777.7" y="106.1" width="2.6" height="1.8" fill="#7f8890"/>
<rect x="784.2" y="106.1" width="2.6" height="1.8" fill="#7f8890"/>
<rect x="790.7" y="106.1" width="2.6" height="1.8" fill="#7f8890"/>
<rect x="797.2" y="106.1" width="2.6" height="1.8" fill="#7f8890"/>
<rect x="777.7" y="111.1" width="2.6" height="1.8" fill="#7f8890"/>
<rect x="784.2" y="111.1" width="2.6" height="1.8" fill="#7f8890"/>
<rect x="790.7" y="111.1" width="2.6" height="1.8" fill="#7f8890"/>
<rect x="797.2" y="111.1" width="2.6" height="1.8" fill="#7f8890"/>
<path d="M771.7,128.1 l6,-1 6,1.2 6,-2 6,1 6,-0.6 6,0.8" fill="none" stroke="#e9a06a" stroke-width="0.6"/>
<path d="M771.7,131.1 l6,0.5 6,-1 6,0.8 6,-0.4 6,0.6 6,-0.5" fill="none" stroke="#8ab8e6" stroke-width="0.6"/>
<rect x="808.3000000000001" y="103.1" width="2" height="7" fill="#ee8a3a"/>
<rect x="729.5" y="135.7" width="38.6" height="8.2" fill="#7f9e43"/>
<rect x="770.7" y="135.7" width="39.2" height="8.2" fill="#5d9ad6"/>
<rect x="742.7" y="139.1" width="12" height="1.1" fill="#c8dba0"/><rect x="782.7" y="139.1" width="16" height="1.1" fill="#cfe2f6"/>
</g>
<g><rect x="817.3000000000001" y="98.1" width="82.8" height="48.800000000000004" fill="#2a2b2d"/>
<rect x="842.9000000000001" y="99.3" width="34" height="1.6" fill="#45474a"/>
<circle cx="824.8" cy="113.7" r="2.6" fill="none" stroke="#e8b0a0" stroke-width="1.1"/>
<circle cx="830.8" cy="113.7" r="2.6" fill="none" stroke="#e86a6a" stroke-width="1.1"/>
<circle cx="844.8" cy="113.7" r="2.6" fill="none" stroke="#7acb5a" stroke-width="1.1"/>
<circle cx="850.8" cy="113.7" r="2.6" fill="none" stroke="#d8d84a" stroke-width="1.1"/>
<circle cx="864.9" cy="112.1" r="2.6" fill="#c8a23a"/><circle cx="863.9" cy="112.7" r="1.4" fill="#c85a4a"/>
<rect x="869.4" y="108.5" width="6.5" height="2.2" fill="#58b890"/><rect x="869.4" y="112.5" width="6.5" height="2" fill="#8ad0c0"/>
<circle cx="887.9" cy="111.7" r="3.6" fill="#3a8ad0"/><path d="M887.9,111.7 v-3.6 a3.6,3.6 0 0 1 3.4,4.8 z" fill="#e8d84a"/><path d="M887.9,111.7 l3.4,1.2 a3.6,3.6 0 0 1 -4.6,2.2 z" fill="#5ac06a"/>
<rect x="893.3" y="111.1" width="3" height="1.4" fill="#6a6c70"/>
<rect x="820.4" y="104.3" width="6" height="0.8" fill="#8a8c90"/>
<rect x="820.4" y="120.5" width="9" height="0.8" fill="#7a7c80"/>
<rect x="840.4" y="104.3" width="6" height="0.8" fill="#8a8c90"/>
<rect x="840.4" y="120.5" width="9" height="0.8" fill="#7a7c80"/>
<rect x="860.9" y="104.3" width="6" height="0.8" fill="#8a8c90"/>
<rect x="860.9" y="120.5" width="9" height="0.8" fill="#7a7c80"/>
<rect x="880.9" y="104.3" width="6" height="0.8" fill="#8a8c90"/>
<rect x="880.9" y="120.5" width="9" height="0.8" fill="#7a7c80"/>
<circle cx="823.4" cy="126.1" r="2.1" fill="none" stroke="#c83a4a" stroke-width="0.9"/>
<circle cx="824.2" cy="130.1" r="1.8" fill="none" stroke="#a83a5a" stroke-width="0.8"/>
<rect x="828.4" y="124.1" width="5.4" height="2.6" fill="#4aa898"/><rect x="829.0" y="130.5" width="5" height="2" fill="#d8dadc"/>
<circle cx="843.8" cy="127.5" r="2.3" fill="none" stroke="#d8c83a" stroke-width="1.0"/>
<circle cx="846.8" cy="128.7" r="1.9" fill="none" stroke="#e89a3a" stroke-width="0.9"/>
<rect x="850.4" y="124.1" width="5.6" height="2.6" fill="#4aa878"/><rect x="851.0" y="130.5" width="5" height="2" fill="#d8dadc"/>
<circle cx="862.9" cy="126.7" r="2.1" fill="none" stroke="#c83a5a" stroke-width="0.9"/>
<circle cx="864.3" cy="130.3" r="1.6" fill="none" stroke="#983a6a" stroke-width="0.8"/>
<rect x="868.9" y="124.1" width="5.6" height="2.6" fill="#3a9aa8"/><rect x="869.9" y="130.5" width="4.6" height="2" fill="#d8dadc"/>
<circle cx="883.3" cy="127.1" r="2.2" fill="none" stroke="#5ab84a" stroke-width="0.9"/>
<circle cx="884.5" cy="130.1" r="1.5" fill="none" stroke="#3a9a3a" stroke-width="0.8"/>
<rect x="888.9" y="124.1" width="5.6" height="2.6" fill="#4aa868"/><rect x="889.5" y="130.5" width="5" height="2" fill="#d8dadc"/>
<rect x="821.9000000000001" y="136.5" width="5" height="0.8" fill="#8a8c90"/>
<path d="M826.9000000000001,141.89999999999998 Q857.9000000000001,137.5 895.9000000000001,140.7 Q857.9000000000001,142.7 826.9000000000001,141.89999999999998 Z" fill="#e6dc28"/>
<rect x="820.9000000000001" y="143.3" width="76" height="0.5" fill="#55575a"/>
</g>
<text class="sans" x="686.5" y="85.4" text-anchor="middle" font-size="12.9px" font-weight="700" fill="#223556">瑞纳智慧供热管理平台</text>
<g font-size="8.7px" font-weight="700" fill="#46689a">
<text x="384" y="105.6"><tspan font-size="7.5px" fill="#55606e">✓</tspan><tspan x="393.4">中央总控台</tspan></text>
<text x="384" y="118.8"><tspan font-size="7.5px" fill="#55606e">✓</tspan><tspan x="393.4">热网监控系统</tspan></text>
<text x="384" y="132.0"><tspan font-size="7.5px" fill="#55606e">✓</tspan><tspan x="393.4">计量管控系统</tspan></text>
<text x="384" y="145.2"><tspan font-size="7.5px" fill="#55606e">✓</tspan><tspan x="393.4">收费管理系统</tspan></text>
<text x="384" y="158.4"><tspan font-size="7.5px" fill="#55606e">✓</tspan><tspan x="393.4">能耗分析系统</tspan></text>
<text x="920" y="105.6"><tspan font-size="7.5px" fill="#55606e">✓</tspan><tspan x="929.4">调度指挥系统</tspan></text>
<text x="920" y="118.8"><tspan font-size="7.5px" fill="#55606e">✓</tspan><tspan x="929.4">全网平衡系统</tspan></text>
<text x="920" y="132.0"><tspan font-size="7.5px" fill="#55606e">✓</tspan><tspan x="929.4">室温监测系统</tspan></text>
<text x="920" y="145.2"><tspan font-size="7.5px" fill="#55606e">✓</tspan><tspan x="929.4">客户服务系统</tspan></text>
<text x="920" y="158.4"><tspan font-size="7.5px" fill="#55606e">✓</tspan><tspan x="929.4">设备管理系统</tspan></text>
</g>
</g>
<!--END:PLATFORM-->
<g id="pipes" fill="none" stroke-width="3.1">
  <path d="M183,453 H1043" stroke="#2d6b98"/>
  <path d="M856.8,453 V712 H1054" stroke="#2d6b98"/>
  <path d="M180,462.8 H1043" stroke="#e23036"/>
  <path d="M867,462.8 V699.2 H1052" stroke="#e23036"/>
</g>
<!--SECTION:BUILDINGS-->
<g id="buildings">
<g transform="translate(70,370) scale(0.15065)">
<polygon points="84,456 125,432 330,545 330,596" fill="#a9c4d9" />
<polygon points="243,700 305,662 430,760 545,690 765,552 802,574 432,826" fill="#a9c4d9" />
<polygon points="243,700 432,814 802,568 802,578 432,828 243,708" fill="#93b3cb" />
<polygon points="125,214 545,446 545,705 125,452" fill="#d3e2ef" />
<polygon points="545,446 765,326 768,578 545,705" fill="#8cafcc" />
<polygon points="345,68 768,326 545,452 118,212" fill="#98b9d3" />
<polygon points="347,92 728,327 545,430 160,214" fill="#e4edf5" />
<polygon points="560,335 700,330 620,372 545,372" fill="#b9cfe0" />
<polygon points="133.0,256.4 152.0,267.0 152.0,437.0 133.0,426.4" fill="#5e85ac" />
<polygon points="133.0,280.4 152.0,291.0 152.0,298.0 133.0,287.4" fill="#d3e2ef" />
<polygon points="133.0,390.4 152.0,401.0 152.0,408.0 133.0,397.4" fill="#d3e2ef" />
<polygon points="162.5,272.8 181.5,283.3 181.5,453.3 162.5,442.8" fill="#5e85ac" />
<polygon points="162.5,296.8 181.5,307.3 181.5,314.3 162.5,303.8" fill="#d3e2ef" />
<polygon points="162.5,406.8 181.5,417.3 181.5,424.3 162.5,413.8" fill="#d3e2ef" />
<polygon points="192.0,289.1 211.0,299.6 211.0,469.6 192.0,459.1" fill="#5e85ac" />
<polygon points="192.0,313.1 211.0,323.6 211.0,330.6 192.0,320.1" fill="#d3e2ef" />
<polygon points="192.0,423.1 211.0,433.6 211.0,440.6 192.0,430.1" fill="#d3e2ef" />
<polygon points="221.5,305.5 240.5,316.0 240.5,486.0 221.5,475.5" fill="#5e85ac" />
<polygon points="221.5,329.5 240.5,340.0 240.5,347.0 221.5,336.5" fill="#d3e2ef" />
<polygon points="221.5,439.5 240.5,450.0 240.5,457.0 221.5,446.5" fill="#d3e2ef" />
<polygon points="251.0,321.8 270.0,332.3 270.0,502.3 251.0,491.8" fill="#5e85ac" />
<polygon points="251.0,345.8 270.0,356.3 270.0,363.3 251.0,352.8" fill="#d3e2ef" />
<polygon points="251.0,455.8 270.0,466.3 270.0,473.3 251.0,462.8" fill="#d3e2ef" />
<polygon points="280.5,338.1 299.5,348.7 299.5,518.7 280.5,508.1" fill="#5e85ac" />
<polygon points="280.5,362.1 299.5,372.7 299.5,379.7 280.5,369.1" fill="#d3e2ef" />
<polygon points="280.5,472.1 299.5,482.7 299.5,489.7 280.5,479.1" fill="#d3e2ef" />
<polygon points="310.0,354.5 329.0,365.0 329.0,535.0 310.0,524.5" fill="#5e85ac" />
<polygon points="310.0,378.5 329.0,389.0 329.0,396.0 310.0,385.5" fill="#d3e2ef" />
<polygon points="310.0,488.5 329.0,499.0 329.0,506.0 310.0,495.5" fill="#d3e2ef" />
<polygon points="640.0,434.2 667.0,419.5 667.0,594.5 640.0,609.2" fill="#3f6390" />
<polygon points="640.0,472.2 667.0,457.5 667.0,463.5 640.0,478.2" fill="#8cafcc" />
<polygon points="640.0,554.2 667.0,539.5 667.0,545.5 640.0,560.2" fill="#8cafcc" />
<polygon points="678.0,413.5 705.0,398.8 705.0,573.8 678.0,588.5" fill="#3f6390" />
<polygon points="678.0,451.5 705.0,436.8 705.0,442.8 678.0,457.5" fill="#8cafcc" />
<polygon points="678.0,533.5 705.0,518.8 705.0,524.8 678.0,539.5" fill="#8cafcc" />
<polygon points="716.0,392.8 743.0,378.1 743.0,553.1 716.0,567.8" fill="#3f6390" />
<polygon points="716.0,430.8 743.0,416.1 743.0,422.1 716.0,436.8" fill="#8cafcc" />
<polygon points="716.0,512.8 743.0,498.1 743.0,504.1 716.0,518.8" fill="#8cafcc" />
<ellipse cx="285" cy="216" rx="38" ry="22" fill="#b5c7d8"/>
<ellipse cx="281" cy="214" rx="20" ry="14" fill="#3b546f"/>
<ellipse cx="350" cy="180" rx="38" ry="22" fill="#b5c7d8"/>
<ellipse cx="346" cy="178" rx="20" ry="14" fill="#3b546f"/>
<ellipse cx="456.0" cy="332" rx="28.0" ry="13" fill="#4d7396"/>
<rect x="436" y="104" width="40" height="228" fill="#6791b5"/>
<rect x="436" y="104" width="16.0" height="228" fill="#86abc9"/>
<ellipse cx="456.0" cy="332" rx="20.0" ry="8" fill="#6791b5"/>
<ellipse cx="456.0" cy="106" rx="22.0" ry="9" fill="#2f4c6b"/>
<ellipse cx="531.5" cy="378" rx="29.5" ry="13" fill="#4d7396"/>
<rect x="510" y="150" width="43" height="228" fill="#6791b5"/>
<rect x="510" y="150" width="17.2" height="228" fill="#86abc9"/>
<ellipse cx="531.5" cy="378" rx="21.5" ry="8" fill="#6791b5"/>
<ellipse cx="531.5" cy="152" rx="23.5" ry="9" fill="#2f4c6b"/>
<polygon points="300,560 425,625 425,775 300,706" fill="#d9e6f1" />
<polygon points="425,625 548,548 548,705 425,775" fill="#86a9c9" />
<polygon points="418,478 552,546 428,628 296,556" fill="#9bbad3" />
<polygon points="420,498 520,547 428,607 328,556" fill="#e1ebf4" />
<ellipse cx="420" cy="540" rx="36" ry="22" fill="#b5c7d8"/><ellipse cx="414" cy="536" rx="20" ry="14" fill="#3b546f"/>
<polygon points="320.0,632.0 347.0,646.9 347.0,698.9 320.0,684.0" fill="#4f7aa3" />
<polygon points="370.0,660.0 397.0,674.9 397.0,726.9 370.0,712.0" fill="#4f7aa3" />
<polygon points="468.0,655.0 500.0,637.4 500.0,732.4 468.0,750.0" fill="#4a6f9a" />
</g>
<g transform="translate(285,395) scale(0.11587)">
<polygon points="105,560 335,690 575,545 335,420" fill="#a9c4d9" />
<polygon points="122,334 335,460 335,672 130,562" fill="#bcd4ea" />
<polygon points="335,460 550,334 548,545 335,672" fill="#93b4d2" />
<polygon points="330,196 556,330 336,462 114,330" fill="#9cb6ca" />
<polygon points="330,226 506,330 336,432 160,330" fill="#e6eef6" />
<ellipse cx="298" cy="312" rx="36" ry="22" fill="#c3d0dc"/><ellipse cx="298" cy="309" rx="18" ry="11" fill="#4a5f78"/>
<ellipse cx="360" cy="350" rx="36" ry="22" fill="#c3d0dc"/><ellipse cx="360" cy="347" rx="18" ry="11" fill="#4a5f78"/>
<polygon points="126,378 318,488 318,530 128,420" fill="#f08466" />
<polygon points="126,378 318,488 318,500 126,390" fill="#f6b39e" />
<polygon points="140.0,445.0 215.0,487.8 215.0,592.8 140.0,550.0" fill="#7fa3c8" />
<polygon points="240.0,520.0 318.0,564.5 318.0,669.5 240.0,625.0" fill="#6f97c0" />
<polygon points="160.0,470.0 200.0,492.8 200.0,572.8 160.0,550.0" fill="#476c95" />
<polygon points="255.0,540.0 300.0,565.6 300.0,645.6 255.0,620.0" fill="#3f628c" />
<polygon points="362.0,512.0 402.0,488.8 402.0,583.8 362.0,607.0" fill="#45678f" />
<polygon points="432.0,455.0 470.0,433.0 470.0,553.0 432.0,575.0" fill="#4f739c" />
<polygon points="490.0,430.0 520.0,412.6 520.0,448.6 490.0,466.0" fill="#f4f7fa" />
<polygon points="520.0,412.0 545.0,397.5 545.0,433.5 520.0,448.0" fill="#3f5878" />
</g>
<defs><linearGradient id="cyl" x1="0" y1="0" x2="1" y2="0"><stop offset="0" stop-color="#8e8e8e"/><stop offset="0.3" stop-color="#d2d2d2"/><stop offset="0.55" stop-color="#bdbdbd"/><stop offset="1" stop-color="#858585"/></linearGradient></defs>
<g><path d="M452.2,444 V473.6 A13.4,2 0 0 0 479,473.6 V444 Z" fill="url(#cyl)" opacity="0.78"/>
<ellipse cx="465.6" cy="443.2" rx="13.4" ry="4" fill="#c6c6c6" stroke="#a9a9a9" stroke-width="0.6"/></g>
<g transform="translate(620,395) scale(0.12747)">
<polygon points="105,508 335,372 775,655 545,795" fill="#a7bfd0" />
<polygon points="105,508 545,780 775,648 775,660 545,796 105,520" fill="#b9b95a" />
<polygon points="140,402 228,345 318,392 230,452" fill="#9dbad2" />
<polygon points="140,402 230,452 230,560 145,505" fill="#dbe7f1" />
<polygon points="152.0,450.0 205.0,479.1 205.0,534.1 152.0,505.0" fill="#6f98c2" />
<polygon points="230,425 318,372 400,410 335,470" fill="#a8c3d9" />
<polygon points="230,425 335,485 335,625 230,560" fill="#e2ecf5" />
<polygon points="245.0,455.0 265.0,466.0 265.0,571.0 245.0,560.0" fill="#5e86b0" />
<polygon points="285.0,478.0 305.0,489.0 305.0,594.0 285.0,583.0" fill="#5e86b0" />
<polygon points="600,380 712,345 716,622 600,640" fill="#86a8cb" />
<polygon points="335,418 497,500 520,735 335,622" fill="#dfe9f3" />
<polygon points="380.0,578.0 442.0,612.1 442.0,674.1 380.0,640.0" fill="#6f98c2" />
<polygon points="462.0,628.0 482.0,639.0 482.0,694.0 462.0,683.0" fill="#5e86b0" />
<polygon points="497,500 712,374 716,622 545,735 520,735" fill="#8fb1d1" />
<polygon points="520,600 545,590 545,735 520,735" fill="#e6eef6" />
<polygon points="560.0,590.0 625.0,554.2 625.0,614.2 560.0,650.0" fill="#6f98c8" />
<polygon points="640.0,470.0 700.0,437.0 700.0,497.0 640.0,530.0" fill="#7ba2cc" />
<polygon points="655.0,568.0 690.0,548.8 690.0,580.8 655.0,600.0" fill="#f2f6fa" />
<polygon points="560.0,520.0 578.0,510.1 578.0,565.1 560.0,575.0" fill="#6a8fb8" />
<polygon points="440,296 632,404 632,446 612,424 442,342" fill="#a7c0d8" />
<polygon points="335,415 442,338 612,420 497,497" fill="#b5cbdf" />
<polygon points="372,415 450,362 585,425 497,480" fill="#b7a744" />
<polygon points="398,262 482,213 718,345 632,397" fill="#c9d8e6" />
<polygon points="398,262 632,397 632,412 398,277" fill="#9fb9d0" />
<polygon points="450,268 488,246 526,268 488,290" fill="#b3ab52" />
<polygon points="518,306 556,284 594,306 556,328" fill="#b3ab52" />
<polygon points="584,345 622,323 660,345 622,367" fill="#b3ab52" />
</g>
<g transform="translate(1025,370) scale(0.16227)">
<polygon points="62,612 250,505 435,622 250,735" fill="#a6c6dc" />
<polygon points="62,612 250,722 435,622 435,632 250,738 62,622" fill="#8fb3cc" />
<polygon points="105,160 250,236 250,692 105,602" fill="#dbe8f3" />
<polygon points="250,236 392,158 392,610 250,692" fill="#8bb5da" />
<polygon points="245,52 404,150 250,238 92,155" fill="#9dc1dc" />
<polygon points="246,82 360,150 250,210 138,154" fill="#dfeaf3" />
<path d="M175,120 l20,-22 20,10 M215,112 l25,-18 18,10" fill="none" stroke="#7fa6c4" stroke-width="7"/>
<polygon points="130.0,245.0 161.0,261.1 161.0,329.1 130.0,313.0" fill="#4d7dae" />
<polygon points="130.0,335.0 161.0,351.1 161.0,419.1 130.0,403.0" fill="#4d7dae" />
<polygon points="130.0,425.0 161.0,441.1 161.0,509.1 130.0,493.0" fill="#4d7dae" />
<polygon points="130.0,515.0 161.0,531.1 161.0,599.1 130.0,583.0" fill="#4d7dae" />
<polygon points="195.0,278.8 226.0,294.9 226.0,362.9 195.0,346.8" fill="#4d7dae" />
<polygon points="195.0,368.8 226.0,384.9 226.0,452.9 195.0,436.8" fill="#4d7dae" />
<polygon points="195.0,458.8 226.0,474.9 226.0,542.9 195.0,526.8" fill="#4d7dae" />
<polygon points="195.0,548.8 226.0,564.9 226.0,632.9 195.0,616.8" fill="#4d7dae" />
<polygon points="270.0,292.0 306.0,272.6 306.0,340.6 270.0,360.0" fill="#3d6ca4" />
<polygon points="270.0,379.0 306.0,359.6 306.0,427.6 270.0,447.0" fill="#3d6ca4" />
<polygon points="270.0,466.0 306.0,446.6 306.0,514.6 270.0,534.0" fill="#3d6ca4" />
<polygon points="270.0,553.0 306.0,533.6 306.0,601.6 270.0,621.0" fill="#3d6ca4" />
<polygon points="335.0,256.9 371.0,237.5 371.0,305.5 335.0,324.9" fill="#3d6ca4" />
<polygon points="335.0,343.9 371.0,324.5 371.0,392.5 335.0,411.9" fill="#3d6ca4" />
<polygon points="335.0,430.9 371.0,411.5 371.0,479.5 335.0,498.9" fill="#3d6ca4" />
<polygon points="335.0,517.9 371.0,498.5 371.0,566.5 335.0,585.9" fill="#3d6ca4" />
</g>
<g transform="translate(1035,610) scale(0.15066)">
<polygon points="66,626 240,520 450,606 240,738" fill="#a2c5dd" />
<polygon points="66,626 240,728 450,606 450,616 240,742 66,636" fill="#8ab0cb" />
<polygon points="108,122 232,184 240,692 104,612" fill="#dde9f5" />
<polygon points="232,150 278,178 278,672 240,692 232,692" fill="#cfe0f0" />
<polygon points="278,180 322,150 322,300 278,330" fill="#7faee0" />
<polygon points="278,330 322,290 402,318 402,612 290,682 278,672" fill="#7aa9dc" />
<polygon points="185,66 322,140 278,182 232,188 108,124" fill="#b9d2e8" />
<polygon points="165,100 215,82 262,106 212,134" fill="#b3ab52" />
<polygon points="322,286 402,316 350,362 290,330" fill="#b9d2e8" />
<polygon points="318,312 368,326 345,352 305,334" fill="#b3ab52" />
<polygon points="118.0,150.0 226.0,204.0 226.0,224.0 118.0,170.0" fill="#3f6eb0" />
<polygon points="118.0,196.0 226.0,250.0 226.0,270.0 118.0,216.0" fill="#3f6eb0" />
<polygon points="118.0,242.0 226.0,296.0 226.0,316.0 118.0,262.0" fill="#3f6eb0" />
<polygon points="118.0,288.0 226.0,342.0 226.0,362.0 118.0,308.0" fill="#3f6eb0" />
<polygon points="118.0,334.0 226.0,388.0 226.0,408.0 118.0,354.0" fill="#3f6eb0" />
<polygon points="118.0,380.0 226.0,434.0 226.0,454.0 118.0,400.0" fill="#3f6eb0" />
<polygon points="118.0,426.0 226.0,480.0 226.0,500.0 118.0,446.0" fill="#3f6eb0" />
<polygon points="118.0,472.0 226.0,526.0 226.0,546.0 118.0,492.0" fill="#3f6eb0" />
<polygon points="118.0,518.0 226.0,572.0 226.0,592.0 118.0,538.0" fill="#3f6eb0" />
<polygon points="118.0,564.0 226.0,618.0 226.0,638.0 118.0,584.0" fill="#3f6eb0" />
<polygon points="246.0,215.0 262.0,219.8 262.0,271.8 246.0,267.0" fill="#4a74a8" />
<polygon points="246.0,307.0 262.0,311.8 262.0,363.8 246.0,359.0" fill="#4a74a8" />
<polygon points="246.0,399.0 262.0,403.8 262.0,455.8 246.0,451.0" fill="#4a74a8" />
<polygon points="246.0,491.0 262.0,495.8 262.0,547.8 246.0,543.0" fill="#4a74a8" />
<polygon points="246.0,583.0 262.0,587.8 262.0,639.8 246.0,635.0" fill="#4a74a8" />
<polygon points="296.0,402.0 396.0,347.0 396.0,367.0 296.0,422.0" fill="#3566a8" />
<polygon points="296.0,464.0 396.0,409.0 396.0,429.0 296.0,484.0" fill="#3566a8" />
<polygon points="296.0,526.0 396.0,471.0 396.0,491.0 296.0,546.0" fill="#3566a8" />
<polygon points="296.0,588.0 396.0,533.0 396.0,553.0 296.0,608.0" fill="#3566a8" />
</g>
</g>
<!--END:BUILDINGS-->
<!--SECTION:DEVICES-->
<g id="devices">
<defs>
<linearGradient id="steel" x1="0" y1="0" x2="0" y2="1"><stop offset="0" stop-color="#f2f2f2"/><stop offset="0.35" stop-color="#9c9c9c"/><stop offset="0.6" stop-color="#dcdcdc"/><stop offset="1" stop-color="#6e6e6e"/></linearGradient>
<linearGradient id="steelh" x1="0" y1="0" x2="1" y2="0"><stop offset="0" stop-color="#7a7a7a"/><stop offset="0.4" stop-color="#e6e6e6"/><stop offset="1" stop-color="#7e7e7e"/></linearGradient>
<linearGradient id="term" x1="0" y1="0" x2="0" y2="1"><stop offset="0" stop-color="#ececec"/><stop offset="1" stop-color="#bfbfbf"/></linearGradient>
<linearGradient id="cab" x1="0" y1="0" x2="0" y2="1"><stop offset="0" stop-color="#d6d6d6"/><stop offset="1" stop-color="#b4b4b4"/></linearGradient>
<filter id="b05" x="-10%" y="-10%" width="120%" height="120%"><feGaussianBlur stdDeviation="0.5"/></filter>
<filter id="b3" x="-30%" y="-60%" width="160%" height="220%"><feGaussianBlur stdDeviation="2"/></filter>
</defs>
<g filter="url(#b05)">
<ellipse cx="515" cy="513.5" rx="24" ry="4.6" fill="#cfcfcf" filter="url(#b3)"/>
<rect x="492" y="505" width="46" height="12" fill="#dedede" opacity="0.7"/>
<ellipse cx="529.8" cy="498.4" rx="6.6" ry="12.6" fill="#6f6f6f"/>
<ellipse cx="528.6" cy="498.6" rx="6.2" ry="12.2" fill="#b9b9b9"/>
<path d="M499,496 L528,493.6 V509 L499,511.5 Z" fill="url(#steel)"/>
<ellipse cx="499.4" cy="503" rx="7.2" ry="14" fill="#8e8e8e"/>
<ellipse cx="498.6" cy="503" rx="6.6" ry="13.4" fill="#cdcdcd"/>
<ellipse cx="499.6" cy="503" rx="3.6" ry="7.6" fill="#4a4a4a"/>
<ellipse cx="500.4" cy="503" rx="2.2" ry="5.4" fill="#9a9a9a"/>
<rect x="511.2" y="482.6" width="3" height="13.4" fill="#a4a4a4"/>
<path d="M505.2,473.4 H520.2 L518.8,483.4 H506.6 Z" fill="url(#steelh)"/>
<ellipse cx="512.7" cy="473" rx="7.8" ry="2.2" fill="#40525c"/>
</g>
<g filter="url(#b05)">
<rect x="627.6" y="523" width="111.4" height="61.4" fill="#f8f8f8"/>
<g transform="translate(625,518) scale(0.094634)">
<polygon points="55,552 1130,542 1130,584 620,626 110,652 55,588" fill="#2b2c2e"/>
<polygon points="110,600 600,585 600,605 110,628" fill="#4a4c50"/>
<rect x="200" y="440" width="630" height="120" fill="#3a3c40" rx="0"/>
<rect x="330" y="420" width="60" height="60" fill="#2a2b2e" rx="0"/>
<rect x="420" y="430" width="70" height="50" fill="#55585d" rx="0"/>
<rect x="640" y="525" width="170" height="24" fill="#e8e8e8" rx="0"/>
<rect x="430" y="520" width="80" height="18" fill="#c9c9c9" rx="0"/>
<rect x="280" y="500" width="40" height="40" fill="#8a8d92" rx="0"/>
<rect x="148" y="350" width="50" height="215" fill="#1a1b1d" rx="8"/>
<rect x="238" y="308" width="64" height="170" fill="#141516" rx="8"/>
<rect x="200" y="460" width="60" height="90" fill="#2a2b2e" rx="0"/>
<polygon points="280,150 560,150 880,200 880,250 560,232 280,215" fill="#2a2b2f"/>
<circle cx="312" cy="118" r="30" fill="#2e2f33"/>
<circle cx="392" cy="150" r="26" fill="#2e2f33"/>
<circle cx="452" cy="98" r="30" fill="#2e2f33"/>
<circle cx="500" cy="150" r="24" fill="#2e2f33"/>
<circle cx="700" cy="150" r="30" fill="#2e2f33"/>
<circle cx="770" cy="180" r="24" fill="#2e2f33"/>
<circle cx="312" cy="112" r="14" fill="#8c8f94"/>
<circle cx="452" cy="92" r="14" fill="#8c8f94"/>
<circle cx="700" cy="144" r="13" fill="#8c8f94"/>
<rect x="566" y="70" width="12" height="50" fill="#55575b" rx="0"/>
<rect x="534" y="120" width="88" height="485" fill="#141415" rx="6"/>
<rect x="500" y="240" width="36" height="200" fill="#3a3b3f" rx="0"/>
<path d="M690,235 V470 M690,250 H760 V420 H700" fill="none" stroke="#34363a" stroke-width="26"/>
<rect x="640" y="380" width="120" height="70" fill="#2d2e32" rx="0"/>
<rect x="822" y="196" width="204" height="396" fill="#23242c" rx="0"/>
<rect x="832" y="206" width="100" height="376" fill="#28339a" rx="0"/>
<rect x="932" y="214" width="70" height="300" fill="#a3a4c4" rx="0"/>
<rect x="932" y="285" width="100" height="7" fill="#d0508a" rx="0"/>
<rect x="932" y="360" width="100" height="7" fill="#d0508a" rx="0"/>
<rect x="932" y="435" width="100" height="7" fill="#d0508a" rx="0"/>
<rect x="1000" y="200" width="24" height="392" fill="#2b2d55" rx="0"/>
<rect x="790" y="205" width="50" height="28" fill="#4a4c52" rx="0"/>
</g>
</g>
<g filter="url(#b05)">
<path d="M739.6,538.4 L741.6,535.8 H777 V588.6 L771,591.4 H739.6 Z" fill="#2b2b2d"/>
<rect x="741.4" y="539.4" width="29" height="50.2" fill="url(#cab)"/>
<rect x="748" y="549.6" width="8.8" height="6.2" fill="#222426"/>
<rect x="749.2" y="550.6" width="3" height="2.2" fill="#cfd3d6"/>
<rect x="746.6" y="560.0" width="1.5" height="1.6" fill="#4c4f52"/>
<rect x="749.8" y="560.0" width="1.5" height="1.6" fill="#4c4f52"/>
<rect x="753.0" y="560.0" width="1.5" height="1.6" fill="#4c4f52"/>
<rect x="756.2" y="560.0" width="1.5" height="1.6" fill="#4c4f52"/>
<rect x="746.6" y="562.8" width="1.5" height="1.6" fill="#4c4f52"/>
<rect x="749.8" y="562.8" width="1.5" height="1.6" fill="#4c4f52"/>
<rect x="753.0" y="562.8" width="1.5" height="1.6" fill="#4c4f52"/>
<rect x="756.2" y="562.8" width="1.5" height="1.6" fill="#4c4f52"/>
<circle cx="748.5" cy="544.6" r="1" fill="#55585b"/>
<circle cx="760" cy="544.6" r="1" fill="#55585b"/>
<rect x="746.4" y="579.6" width="1.6" height="4" fill="#85888b"/>
<rect x="749.8" y="579.6" width="1.6" height="4" fill="#85888b"/>
<rect x="753.2" y="579.6" width="1.6" height="4" fill="#85888b"/>
<rect x="756.6" y="579.6" width="1.6" height="4" fill="#85888b"/>
<rect x="741.6" y="565" width="1.6" height="7" fill="#3a3a3c"/>
</g>
<g transform="translate(914,501) scale(1.0)" filter="url(#b05)">
<path d="M2,-3.2 L27,-11.6 L29.6,-5 L4.6,3.6 Z" fill="#2b2d3a"/>
<ellipse cx="29" cy="-9" rx="7.6" ry="6.2" fill="#202126"/>
<path d="M18,-16 L42,-20 L60,-21 L58,-15 L42,-9 L22,-9 Z" fill="#3c3f45"/>
<rect x="31" y="-26.4" width="12" height="5.2" fill="#9ea3a9"/>
<path d="M29.5,-22 H44.5 L43,-18 H31 Z" fill="#767b82"/>
<circle cx="35.6" cy="-15.6" r="4" fill="#e8633e"/>
<path d="M44,-18 L61,-21.6 L62.4,-19 L50,-12 L45,-11 Z" fill="#4a4d54"/>
<rect x="13" y="-11" width="2.4" height="4.4" fill="#1d1e22"/>
<rect x="47.6" y="-12" width="1.4" height="5" fill="#3a3c40"/>
<ellipse cx="0.6" cy="0.4" rx="4.4" ry="3.3" fill="#e9c81c" transform="rotate(-20)"/>
</g>
<g transform="translate(903.4,685.4) scale(1.27)" filter="url(#b05)">
<path d="M2,-3.2 L27,-11.6 L29.6,-5 L4.6,3.6 Z" fill="#2b2d3a"/>
<ellipse cx="29" cy="-9" rx="7.6" ry="6.2" fill="#202126"/>
<path d="M18,-16 L42,-20 L60,-21 L58,-15 L42,-9 L22,-9 Z" fill="#3c3f45"/>
<rect x="31" y="-26.4" width="12" height="5.2" fill="#9ea3a9"/>
<path d="M29.5,-22 H44.5 L43,-18 H31 Z" fill="#767b82"/>
<circle cx="35.6" cy="-15.6" r="4" fill="#e8633e"/>
<path d="M44,-18 L61,-21.6 L62.4,-19 L50,-12 L45,-11 Z" fill="#4a4d54"/>
<rect x="13" y="-11" width="2.4" height="4.4" fill="#1d1e22"/>
<rect x="47.6" y="-12" width="1.4" height="5" fill="#3a3c40"/>
<ellipse cx="0.6" cy="0.4" rx="4.4" ry="3.3" fill="#e9c81c" transform="rotate(-20)"/>
</g>
<g filter="url(#b05)"><rect x="1083" y="338.6" width="34" height="46.6" fill="url(#term)" stroke="#a9a9a9" stroke-width="0.7"/>
<rect x="1087.2" y="352.1" width="23.1" height="17.7" rx="0.8" fill="#191919"/>
<rect x="1089.8" y="354.0" width="17.7" height="14.0" fill="#0c0c0c"/>
<rect x="1110.2" y="356.8" width="2.4" height="8.4" fill="#6b6b6b"/>
<rect x="1086.4" y="342.1" width="3.4" height="1" fill="#b38a8a"/>
</g>
<g filter="url(#b05)"><rect x="1049.8" y="570.8" width="33.6" height="46.8" fill="url(#term)" stroke="#a9a9a9" stroke-width="0.7"/>
<rect x="1054.0" y="584.4" width="22.8" height="17.8" rx="0.8" fill="#191919"/>
<rect x="1056.5" y="586.2" width="17.5" height="14.0" fill="#0c0c0c"/>
<rect x="1076.7" y="589.1" width="2.4" height="8.4" fill="#6b6b6b"/>
<rect x="1053.2" y="574.3" width="3.4" height="1" fill="#b38a8a"/>
</g>
<g filter="url(#b05)">
<rect x="1134" y="500.6" width="8.6" height="7.8" rx="1" fill="#c99a32"/>
<rect x="1137.4" y="499.8" width="3" height="9.4" fill="#a87a1e"/>
<rect x="1093.4" y="487" width="41.4" height="36.6" rx="5" fill="#dfe1e5" transform="rotate(-4 1114 505)"/>
<rect x="1094" y="492.4" width="30" height="27" rx="2.6" fill="#191a24" transform="rotate(-4 1109 506)"/>
<rect x="1098" y="494.8" width="20" height="3.4" fill="#3b3d4a" transform="rotate(-4 1109 506)"/>
<circle cx="1107.8" cy="509.2" r="4.8" fill="#f2f2f2"/>
<circle cx="1117" cy="507.6" r="2.4" fill="#e4e4e4"/>
<rect x="1113" y="523" width="3" height="2.4" fill="#8c8c8c"/>
</g>
<g filter="url(#b05)">
<rect x="1172.8" y="480.6" width="3.2" height="10" fill="#b5b5b5"/>
<path d="M1152,501.8 L1172,488.6 L1192.4,500.6 L1191,510 L1171,526 L1152.2,510 Z" fill="#e9e9e9"/>
<path d="M1152,501.8 L1172,488.6 L1192.4,500.6 L1171.4,515.4 Z" fill="#f5f5f5"/>
<path d="M1164.2,493.6 L1172,488.6 L1188.4,498.4 L1181.6,503 Z" fill="#a9a9a9"/>
<path d="M1152,501.8 L1171.4,515.4 L1171,526 L1152.2,510 Z" fill="#dcdcdc"/>
<path d="M1171.4,515.4 L1192.4,500.6 L1191,510 L1171,526 Z" fill="#c9c9c9"/>
<rect x="1172" y="502" width="4" height="1" fill="#5a6a9a" transform="rotate(30 1174 502)"/>
</g>
<g filter="url(#b05)"><rect x="1204.4" y="483.8" width="40.8" height="42.8" rx="3.4" fill="#ededed" stroke="#dcdcdc" stroke-width="0.6"/>
<rect x="1206.4" y="485.8" width="36.8" height="31.4" rx="3.2" fill="#1d1d1f"/>
<text class="sans" x="1224.8" y="506.4" text-anchor="middle" font-size="7px" font-weight="700" fill="#d9d9d9">26</text>
<rect x="1213.6" y="489.2" width="2.4" height="1.4" fill="#8f8f8f"/>
<rect x="1223.6" y="489.2" width="2.4" height="1.4" fill="#8f8f8f"/>
<rect x="1233.6" y="489.2" width="2.4" height="1.4" fill="#8f8f8f"/>
<rect x="1215.8" y="500.0" width="18" height="0.6" fill="#6a6a6a"/>
<rect x="1215.8" y="508.4" width="18" height="0.6" fill="#6a6a6a"/>
<circle cx="1224.8000000000002" cy="514.0" r="0.8" fill="#cfcfcf"/>
</g>
<g filter="url(#b05)"><rect x="1157.2" y="623.8" width="41.4" height="42.8" rx="3.4" fill="#ededed" stroke="#dcdcdc" stroke-width="0.6"/>
<rect x="1159.2" y="625.8" width="37.4" height="32" rx="3.2" fill="#1d1d1f"/>
<text class="sans" x="1177.9" y="646.8" text-anchor="middle" font-size="7px" font-weight="700" fill="#d9d9d9">26</text>
<rect x="1166.7" y="629.2" width="2.4" height="1.4" fill="#8f8f8f"/>
<rect x="1176.7" y="629.2" width="2.4" height="1.4" fill="#8f8f8f"/>
<rect x="1186.7" y="629.2" width="2.4" height="1.4" fill="#8f8f8f"/>
<rect x="1168.9" y="640.4" width="18" height="0.6" fill="#6a6a6a"/>
<rect x="1168.9" y="648.8" width="18" height="0.6" fill="#6a6a6a"/>
<circle cx="1177.9" cy="654.6" r="0.8" fill="#cfcfcf"/>
</g>
</g>
<!--END:DEVICES-->
<!--SECTION:LABELS-->
<g id="labels">
<text x="136.7" y="509.6" font-size="12.3px" fill="#3a3a3a" text-anchor="middle" font-weight="700">热源</text>
<text x="323.4" y="489.6" font-size="12px" fill="#3a3a3a" text-anchor="middle" font-weight="700">首站</text>
<text x="461.8" y="490.4" font-size="12.5px" fill="#3a3a3a" text-anchor="middle" font-weight="700">关键点</text>
<text x="675.4" y="512.8" font-size="12.6px" fill="#3a3a3a" text-anchor="middle" font-weight="700">热力站</text>
<text x="575.6" y="479.4" font-size="9.4px" fill="#d14a4a" text-anchor="middle" font-weight="700">一网</text>
<text x="884.3" y="479" font-size="9.5px" fill="#d14a4a" text-anchor="middle" font-weight="700">二网</text>
<text x="1065.4" y="502" font-size="9.2px" fill="#3a3a3a" text-anchor="middle" font-weight="700">居民楼</text>
<text x="1073.4" y="734.6" font-size="9.6px" fill="#3a3a3a" text-anchor="middle" font-weight="700" letter-spacing="-0.2">居民/公建</text>
<text x="515" y="534.5" font-size="12.6px" fill="#5f93c4" text-anchor="middle" font-weight="600">大口径</text>
<text x="514.5" y="551" font-size="12.95px" fill="#3f6d99" text-anchor="middle" font-weight="600">超声波热量表</text>
<text x="679.4" y="605.6" font-size="12.8px" fill="#3f6d99" text-anchor="middle" font-weight="600">模块化换热机组</text>
<text x="803.4" y="563.4" font-size="12.4px" fill="#5f93c4" text-anchor="middle" font-weight="600">智能控</text>
<text x="803.4" y="581.6" font-size="12.4px" fill="#5f93c4" text-anchor="middle" font-weight="600">制柜</text>
<text x="942.7" y="521.6" font-size="12.6px" fill="#5a84ad" text-anchor="middle" font-weight="600">智能水力</text>
<text x="942.7" y="538.3" font-size="12.6px" fill="#5a84ad" text-anchor="middle" font-weight="600">平衡装置</text>
<text x="1150.7" y="357" font-size="12.45px" fill="#4a7aaa" text-anchor="middle" font-weight="600">智能物联</text>
<text x="1150.7" y="373.7" font-size="12.45px" fill="#4a7aaa" text-anchor="middle" font-weight="600">数据终端</text>
<text x="1103.6" y="540" font-size="12.4px" fill="#5f93c4" text-anchor="middle" font-weight="600" letter-spacing="1">户用</text>
<text x="1103.6" y="556.5" font-size="12.8px" fill="#3f6d99" text-anchor="middle" font-weight="600">超声波热量表</text>
<text x="1169.2" y="540.5" font-size="12.3px" fill="#5f93c4" text-anchor="middle" font-weight="600">智能温</text>
<text x="1169.4" y="557" font-size="12.3px" fill="#5f93c4" text-anchor="middle" font-weight="600">控阀</text>
<text x="1224.6" y="549.3" font-size="12.4px" fill="#3f6d99" text-anchor="middle" font-weight="600">温控面板</text>
<text x="1116" y="593" font-size="12.5px" fill="#4a7aaa" text-anchor="middle" font-weight="600">智能物联</text>
<text x="1116" y="609.6" font-size="12.5px" fill="#4a7aaa" text-anchor="middle" font-weight="600">数据终端</text>
<text x="1177.6" y="687" font-size="12.7px" fill="#3f6d99" text-anchor="middle" font-weight="600">室温采集器</text>
<text x="909.3" y="609.4" font-size="12.5px" fill="#4f7ca8" text-anchor="middle" font-weight="600">智能</text>
<text x="909.1" y="626" font-size="12.5px" fill="#4f7ca8" text-anchor="middle" font-weight="600">平衡阀</text>
<text x="988.5" y="609.4" font-size="12.4px" fill="#4f7ca8" text-anchor="middle" font-weight="600">楼栋超</text>
<text x="988.5" y="626" font-size="12.4px" fill="#4f7ca8" text-anchor="middle" font-weight="600">声波热</text>
<text x="988.7" y="643.2" font-size="12.4px" fill="#4f7ca8" text-anchor="middle" font-weight="600">量表</text>
<g stroke="#4a4a4a" stroke-width="0.8" fill="#4a4a4a">
<path d="M919.5,634.6 L929.6,651.8" fill="none"/><path d="M930.6,653.4 L926.6,649.8 L929.6,648.2 Z" stroke="none"/>
<path d="M965.2,638.2 L955,648.8" fill="none"/><path d="M953.8,650.2 L955.6,645.2 L958.2,647.8 Z" stroke="none"/>
</g>
</g>
<!--END:LABELS-->
<g id="brackets" fill="none" stroke-width="1.4" stroke-linejoin="miter">
  <path d="M386.8,174.6 L418,207.8 H951.4 L983,174.8" stroke="#454a58" stroke-width="2.2"/>
  <path d="M74.2,718.6 L105.1,751.6 H639 L671.1,718.6" stroke="#d88c47"/>
  <path d="M671.1,718.6 L701.5,751.6 H1235.6 L1266.6,718.4" stroke="#84945a"/>
  <text class="sans" x="345.6" y="779.4" font-size="12.6px" font-weight="700" fill="#de8a38" letter-spacing="1.75">供 热 端</text>
  <text class="sans" x="941.8" y="779.2" font-size="12.6px" font-weight="700" fill="#66733f" letter-spacing="1.75">用 热 端</text>
</g>
</svg>

<div class="rule" style="top:820.9px;height:2.1px"></div>
<div class="source">资料来源：公司招股说明书，西南证券整理</div>
</div>
</body>
</html>
